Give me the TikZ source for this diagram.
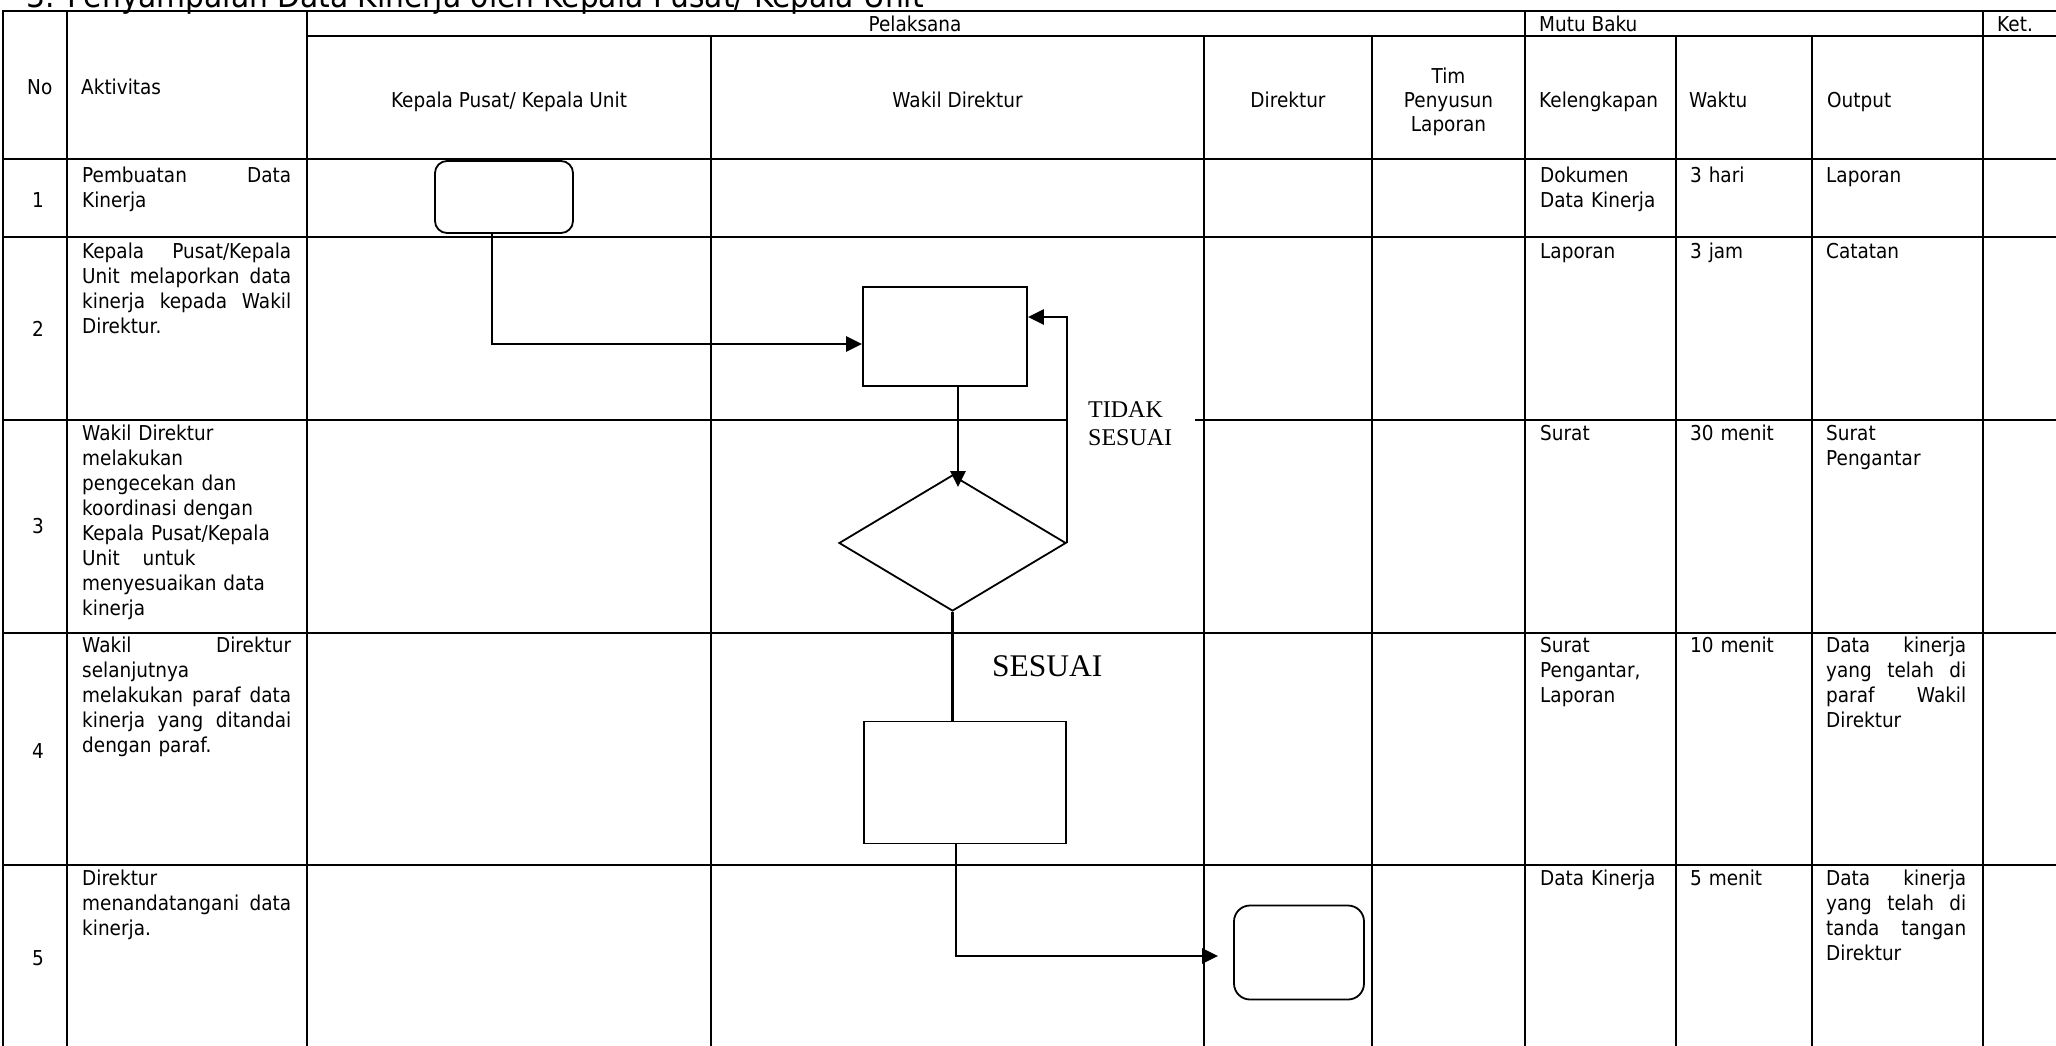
\documentclass[tikz,border=0pt]{standalone}
\usepackage{fontspec}
\setmainfont{DejaVu Sans}[FakeStretch=0.9]
\newfontfamily\serf{Liberation Serif}
\usetikzlibrary{shapes.geometric,arrows.meta,calc}
\newcommand{\bodyfont}{\fontsize{20.5}{25}\selectfont}
\newcommand{\ja}[1]{\leavevmode\hbox to 209pt{#1}}
\newcommand{\jo}[1]{\leavevmode\hbox to 140pt{#1}}
\newcommand{\tp}{\rule{0pt}{18pt}}
\begin{document}
\begin{tikzpicture}[x=1pt,y=-1pt,
  tline/.style={line width=2.6pt,line cap=rect},
  conn/.style={line width=2.6pt,-{Triangle[length=16pt,width=15pt]}},
  plain/.style={line width=2.6pt},
  box/.style={draw,line width=1.8pt,inner sep=0pt},
  cell/.style={anchor=north west,inner sep=0pt,align=left,font=\bodyfont},
  hd/.style={inner sep=0pt,font=\bodyfont},
  lbl/.style={inner sep=0pt,font=\serf\fontsize{24}{28}\selectfont},
]
\useasboundingbox (0,0) rectangle (2056,1045);

% title (cut off at top)
\node[anchor=base west,inner sep=0pt,font=\fontsize{33}{38}\selectfont] (title) at (26,7) {3. Penyampaian Data Kinerja oleh Kepala Pusat/ Kepala Unit};

% table grid
\foreach \yy in {11,159,237,420,633,865} \draw[tline] (3,\yy) -- (2058,\yy);
\draw[tline] (307,36) -- (2058,36);
\foreach \xx in {3,67,307,1525,1983} \draw[tline] (\xx,11) -- (\xx,1048);
\foreach \xx in {711,1204,1372,1676,1812} \draw[tline] (\xx,36) -- (\xx,1048);

% header texts
\node[hd,anchor=base west] (hno) at (27,94) {No};
\node[hd,anchor=base west] (hakt) at (81,94) {Aktivitas};
\node[hd,anchor=base] (hpel) at (915,31.5) {Pelaksana};
\node[hd,anchor=base west] (hmutu) at (1539,31.5) {Mutu Baku};
\node[hd,anchor=base west] (hket) at (1997,31.5) {Ket.};
\node[hd,anchor=base] (hkp) at (509,107.5) {Kepala Pusat/ Kepala Unit};
\node[hd,anchor=base] (hwd) at (957.5,107.5) {Wakil Direktur};
\node[hd,anchor=base] (hdir) at (1288,107.5) {Direktur};
\node[hd,anchor=north,align=center,font=\fontsize{20.5}{24}\selectfont] (htim) at (1448.5,65) {\tp Tim\\Penyusun\\Laporan};
\node[hd,anchor=base west] (hkel) at (1539,107.5) {Kelengkapan};
\node[hd,anchor=base west] (hwak) at (1689,107.5) {Waktu};
\node[hd,anchor=base west] (hout) at (1827,107.5) {Output};

% row numbers
\node[hd,anchor=west] (n1) at (32,200) {1};
\node[hd,anchor=west] (n2) at (32,328.5) {2};
\node[hd,anchor=west] (n3) at (32,526.5) {3};
\node[hd,anchor=west] (n4) at (32,751) {4};
\node[hd,anchor=west] (n5) at (32,958) {5};

% aktivitas
\node[cell,text width=209pt] (a1) at (82,164) {\tp\ja{Pembuatan\hfill Data}\\Kinerja};
\node[cell,text width=209pt] (a2) at (82,240.5) {\tp\ja{Kepala\hfill Pusat/Kepala}\\\ja{Unit\hfill melaporkan\hfill data}\\\ja{kinerja\hfill kepada\hfill Wakil}\\Direktur.};
\node[cell,text width=209pt] (a3) at (82,422) {\tp Wakil Direktur\\melakukan\\pengecekan dan\\koordinasi dengan\\Kepala Pusat/Kepala\\Unit\hspace{16pt} untuk\\menyesuaikan data\\kinerja};
\node[cell,text width=209pt] (a4) at (82,634.5) {\tp\ja{Wakil\hfill Direktur}\\selanjutnya\\\ja{melakukan\hfill paraf\hfill data}\\\ja{kinerja\hfill yang\hfill ditandai}\\dengan paraf.};
\node[cell,text width=209pt] (a5) at (82,867) {\tp Direktur\\\ja{menandatangani\hfill data}\\kinerja.};

% kelengkapan
\node[cell,text width=130pt] (k1) at (1540,164) {\tp Dokumen\\Data Kinerja};
\node[cell,text width=130pt] (k2) at (1540,240.5) {\tp Laporan};
\node[cell,text width=130pt] (k3) at (1540,422) {\tp Surat};
\node[cell,text width=130pt] (k4) at (1540,634.5) {\tp Surat\\Pengantar,\\Laporan};
\node[cell,text width=130pt] (k5) at (1540,867) {\tp Data Kinerja};

% waktu
\node[cell,text width=115pt] (w1) at (1690,164) {\tp 3 hari};
\node[cell,text width=115pt] (w2) at (1690,240.5) {\tp 3 jam};
\node[cell,text width=115pt] (w3) at (1690,422) {\tp 30 menit};
\node[cell,text width=115pt] (w4) at (1690,634.5) {\tp 10 menit};
\node[cell,text width=115pt] (w5) at (1690,867) {\tp 5 menit};

% output
\node[cell,text width=140pt] (o1) at (1826,164) {\tp Laporan};
\node[cell,text width=140pt] (o2) at (1826,240.5) {\tp Catatan};
\node[cell,text width=140pt] (o3) at (1826,422) {\tp Surat\\Pengantar};
\node[cell,text width=140pt] (o4) at (1826,634.5) {\tp\jo{Data\hfill kinerja}\\\jo{yang\hfill telah\hfill di}\\\jo{paraf\hfill Wakil}\\Direktur};
\node[cell,text width=140pt] (o5) at (1826,867) {\tp\jo{Data\hfill kinerja}\\\jo{yang\hfill telah\hfill di}\\\jo{tanda\hfill tangan}\\Direktur};

% flowchart shapes
\node[box,rounded corners=12pt,minimum width=138pt,minimum height=72pt] (t1) at (504,197) {};
\node[box,minimum width=164pt,minimum height=99pt] (p1) at (945,336.5) {};
\node[box,diamond,minimum width=227pt,minimum height=136pt] (d1) at (952.5,543) {};
\node[box,minimum width=202pt,minimum height=122pt] (p2) at (965,782.5) {};
\node[box,rounded corners=16pt,minimum width=130pt,minimum height=94pt] (t2) at (1299,952.5) {};

% labels
\node[lbl,fill=white,anchor=west,text width=87pt,inner xsep=20pt,inner ysep=6pt,align=left] (tidak) at (1068,424) {TIDAK\\SESUAI};
\node[lbl,font=\serf\fontsize{31.5}{36}\selectfont,anchor=west] (sesuai) at (992,666) {SESUAI};

% connectors
\draw[conn] ([xshift=-12pt]t1.south) |- ([yshift=-7.5pt]p1.west);
\draw[conn] ([xshift=13pt]p1.south) -- ([xshift=5.5pt,yshift=-13pt]d1.north);
\draw[conn] (d1.east) |- ([yshift=19.5pt]p1.east);
\draw[plain] (d1.south) -- (d1.south |- p2.north);
\draw[conn,shorten >=15pt] ([xshift=-9pt]p2.south) |- ([yshift=-3.5pt]t2.west);
\end{tikzpicture}
\end{document}
